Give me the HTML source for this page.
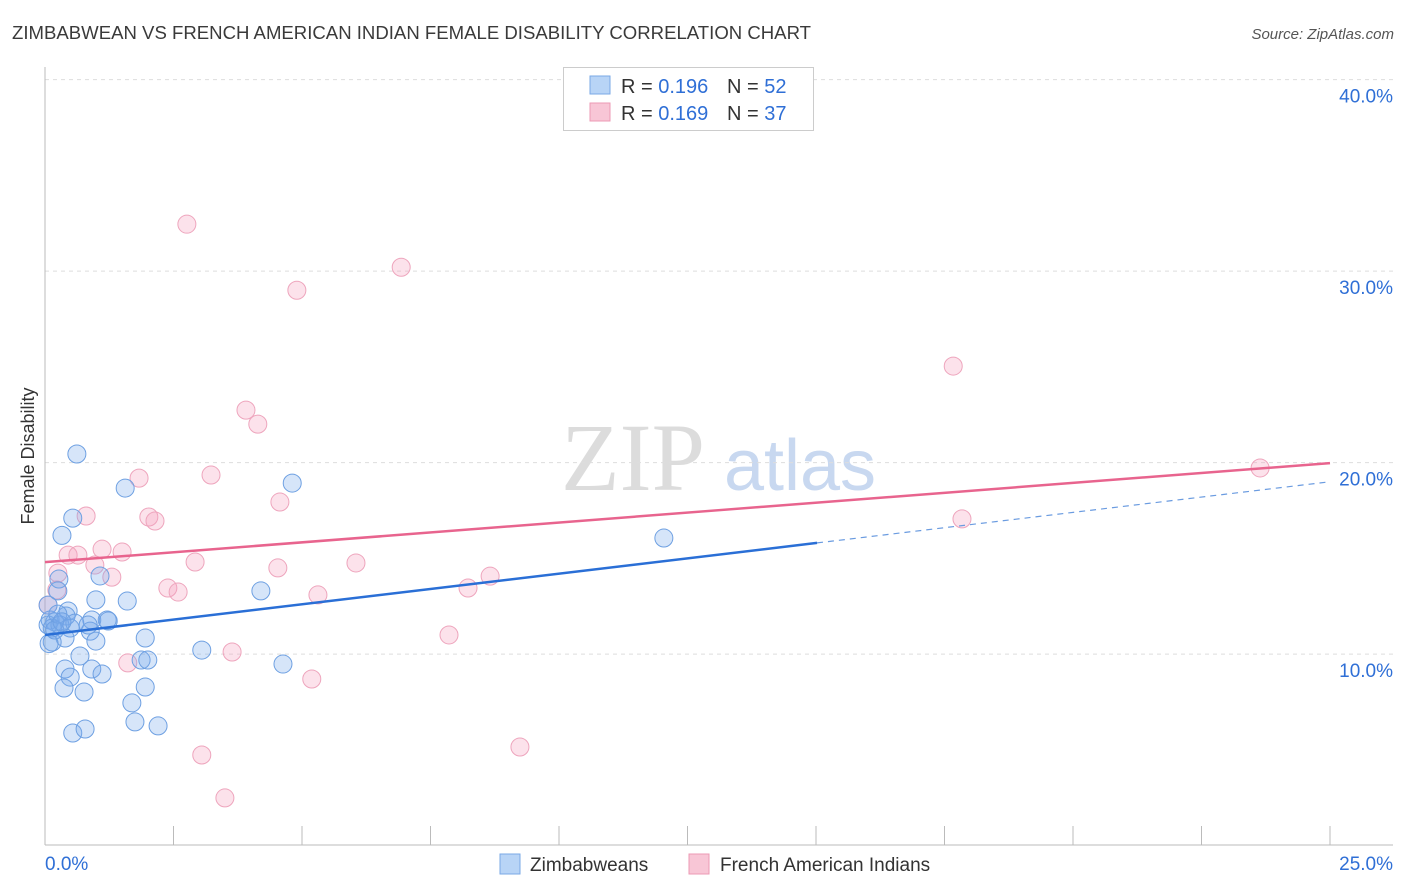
<!DOCTYPE html>
<html><head><meta charset="utf-8"><style>
body{margin:0;background:#fff;font-family:"Liberation Sans",sans-serif;}
svg{display:block}
</style></head><body>
<svg id="chart" width="1406" height="892" xmlns="http://www.w3.org/2000/svg">
<text x="12" y="39" font-size="18" fill="#3a3a3a" textLength="799" lengthAdjust="spacingAndGlyphs">ZIMBABWEAN VS FRENCH AMERICAN INDIAN FEMALE DISABILITY CORRELATION CHART</text>
<text x="1394" y="39" font-size="15" fill="#555" font-style="italic" text-anchor="end">Source: ZipAtlas.com</text>
<g>
<text x="633" y="490" font-size="96" font-family="Liberation Serif,serif" fill="#dcdcdc" text-anchor="middle">ZIP</text>
<text x="800" y="490" font-size="72" fill="#c8d8f0" text-anchor="middle">atlas</text>
</g>
<g id="grid"></g>
<g id="axes"></g>
<g id="marks"></g>
<text transform="translate(34,456) rotate(-90)" font-size="18" fill="#333" text-anchor="middle">Female Disability</text>
<g>
<rect x="563.5" y="67.5" width="250" height="63" fill="#fff" stroke="#ccc"/>
<rect x="590" y="76" width="20" height="18" fill="#b8d4f6" stroke="#7aa8e6"/>
<text x="621" y="93" font-size="20" fill="#333">R = <tspan fill="#2f6fd6">0.196</tspan></text>
<text x="727" y="93" font-size="20" fill="#333">N = <tspan fill="#2f6fd6">52</tspan></text>
<rect x="590" y="103" width="20" height="18" fill="#f8c6d6" stroke="#ec9ab4"/>
<text x="621" y="120" font-size="20" fill="#333">R = <tspan fill="#2f6fd6">0.169</tspan></text>
<text x="727" y="120" font-size="20" fill="#333">N = <tspan fill="#2f6fd6">37</tspan></text>
</g>
<g>
<rect x="500" y="854" width="20" height="20" fill="#b8d4f6" stroke="#7aa8e6"/>
<text x="530" y="871" font-size="19" fill="#333">Zimbabweans</text>
<rect x="689" y="854" width="20" height="20" fill="#f8c6d6" stroke="#ec9ab4"/>
<text x="720" y="871" font-size="19" fill="#333">French American Indians</text>
</g>
</svg>
<script>
const xTicksLabels=["0.0%","25.0%"];
const yTicks=[10,20,30,40];
const yTickLabels=["10.0%","20.0%","30.0%","40.0%"];
const blueX=[0.62,1.56,4.81,0.54,0.33,12.04,0.27,1.07,0.25,0.99,1.6,4.2,0.45,0.41,1.21,0.91,0.1,0.19,0.06,0.29,0.49,0.14,0.88,0.99,0.39,1.95,0.14,0.08,0.68,3.05,1.87,2.0,0.39,0.91,1.11,4.63,0.49,0.37,1.95,0.76,1.69,1.75,2.2,0.54,0.78,0.06,0.19,0.58,1.23,0.25,0.33,0.84];
const blueY=[20.45,18.67,18.93,17.1,16.2,16.06,13.92,14.08,13.3,12.83,12.77,13.3,12.25,11.99,11.78,11.78,11.78,11.68,11.52,11.52,11.36,11.36,11.2,10.68,10.84,10.84,10.63,10.55,9.9,10.21,9.69,9.69,9.22,9.22,8.96,9.48,8.8,8.23,8.28,8.02,7.45,6.46,6.25,5.88,6.09,12.56,11.26,11.62,11.73,12.09,11.68,11.52];
const pinkX=[2.76,6.93,4.9,17.67,3.91,4.14,3.23,1.83,23.64,4.57,0.8,2.02,2.14,17.84,1.11,1.5,0.45,0.64,0.97,2.92,6.05,4.53,0.25,1.3,8.66,2.39,2.59,8.23,5.31,0.23,0.06,7.86,3.64,1.61,5.19,3.05,9.24,3.5];
const pinkY=[32.45,30.2,29.0,25.04,22.74,22.01,19.35,19.19,19.72,17.94,17.21,17.16,16.95,17.06,15.48,15.33,15.17,15.17,14.65,14.81,14.76,14.5,14.23,14.02,14.07,13.45,13.24,13.45,13.09,13.35,12.56,11.0,10.11,9.54,8.7,4.73,5.15,2.49];
const blueTrend=[11.0,0.32,15.02];
const pinkTrend=[14.8,0.207];
const NS="http://www.w3.org/2000/svg";
const X0=45,X1=1330,YBASE=845.6,YPX=19.15;
function sx(v){return X0+(X1-X0)*v/25;}
function sy(v){return YBASE-v*YPX;}
function mk(tag,attrs,parent){const e=document.createElementNS(NS,tag);for(const k in attrs)e.setAttribute(k,attrs[k]);document.getElementById(parent).appendChild(e);return e;}
yTicks.forEach((t,i)=>{
 const g=mk('line',{x1:45,x2:1393,y1:sy(t),y2:sy(t),stroke:'#ddd','stroke-dasharray':'4,4'},'grid');
 
 
 const l=mk('text',{x:1393,y:sy(t)+23,'font-size':19,fill:'#2f6fd6','text-anchor':'end'},'axes');
 l.textContent=yTickLabels[i];
 
 
});
const ax=mk('line',{x1:45,x2:45,y1:67,y2:845,stroke:'#bbb'},'axes');


const bx=mk('line',{x1:45,x2:1393,y1:845,y2:845,stroke:'#bbb'},'axes');


for(let i=1;i<=10;i++){const t=mk('line',{x1:sx(i*2.5),x2:sx(i*2.5),y1:826,y2:845,stroke:'#bbb'},'axes');
 
 }
const xl0=mk('text',{x:45,y:870,'font-size':19,fill:'#2f6fd6'},'axes');xl0.textContent=xTicksLabels[0];


const xl1=mk('text',{x:1393,y:870,'font-size':19,fill:'#2f6fd6','text-anchor':'end'},'axes');xl1.textContent=xTicksLabels[1];


pinkX.forEach((v,i)=>{const c=mk('circle',{cx:sx(v),cy:sy(pinkY[i]),r:9,fill:'rgba(244,160,188,0.3)',stroke:'#eea5bd','stroke-width':1},'marks');
 
 });
blueX.forEach((v,i)=>{const c=mk('circle',{cx:sx(v),cy:sy(blueY[i]),r:9,fill:'rgba(120,170,235,0.3)',stroke:'#6ea0e2','stroke-width':1},'marks');
 
 });
const bl=mk('line',{x1:sx(0),y1:sy(blueTrend[0]),x2:sx(blueTrend[2]),y2:sy(blueTrend[0]+blueTrend[1]*blueTrend[2]),stroke:'#2a6fd6','stroke-width':2.5},'marks');


const bd=mk('line',{x1:sx(blueTrend[2]),y1:sy(blueTrend[0]+blueTrend[1]*blueTrend[2]),x2:sx(25),y2:sy(blueTrend[0]+blueTrend[1]*25),stroke:'#6a9be0','stroke-width':1.2,'stroke-dasharray':'6,5'},'marks');


const pl=mk('line',{x1:sx(0),y1:sy(pinkTrend[0]),x2:sx(25),y2:sy(pinkTrend[0]+pinkTrend[1]*25),stroke:'#e8648e','stroke-width':2.5},'marks');


</script>
</body></html>
